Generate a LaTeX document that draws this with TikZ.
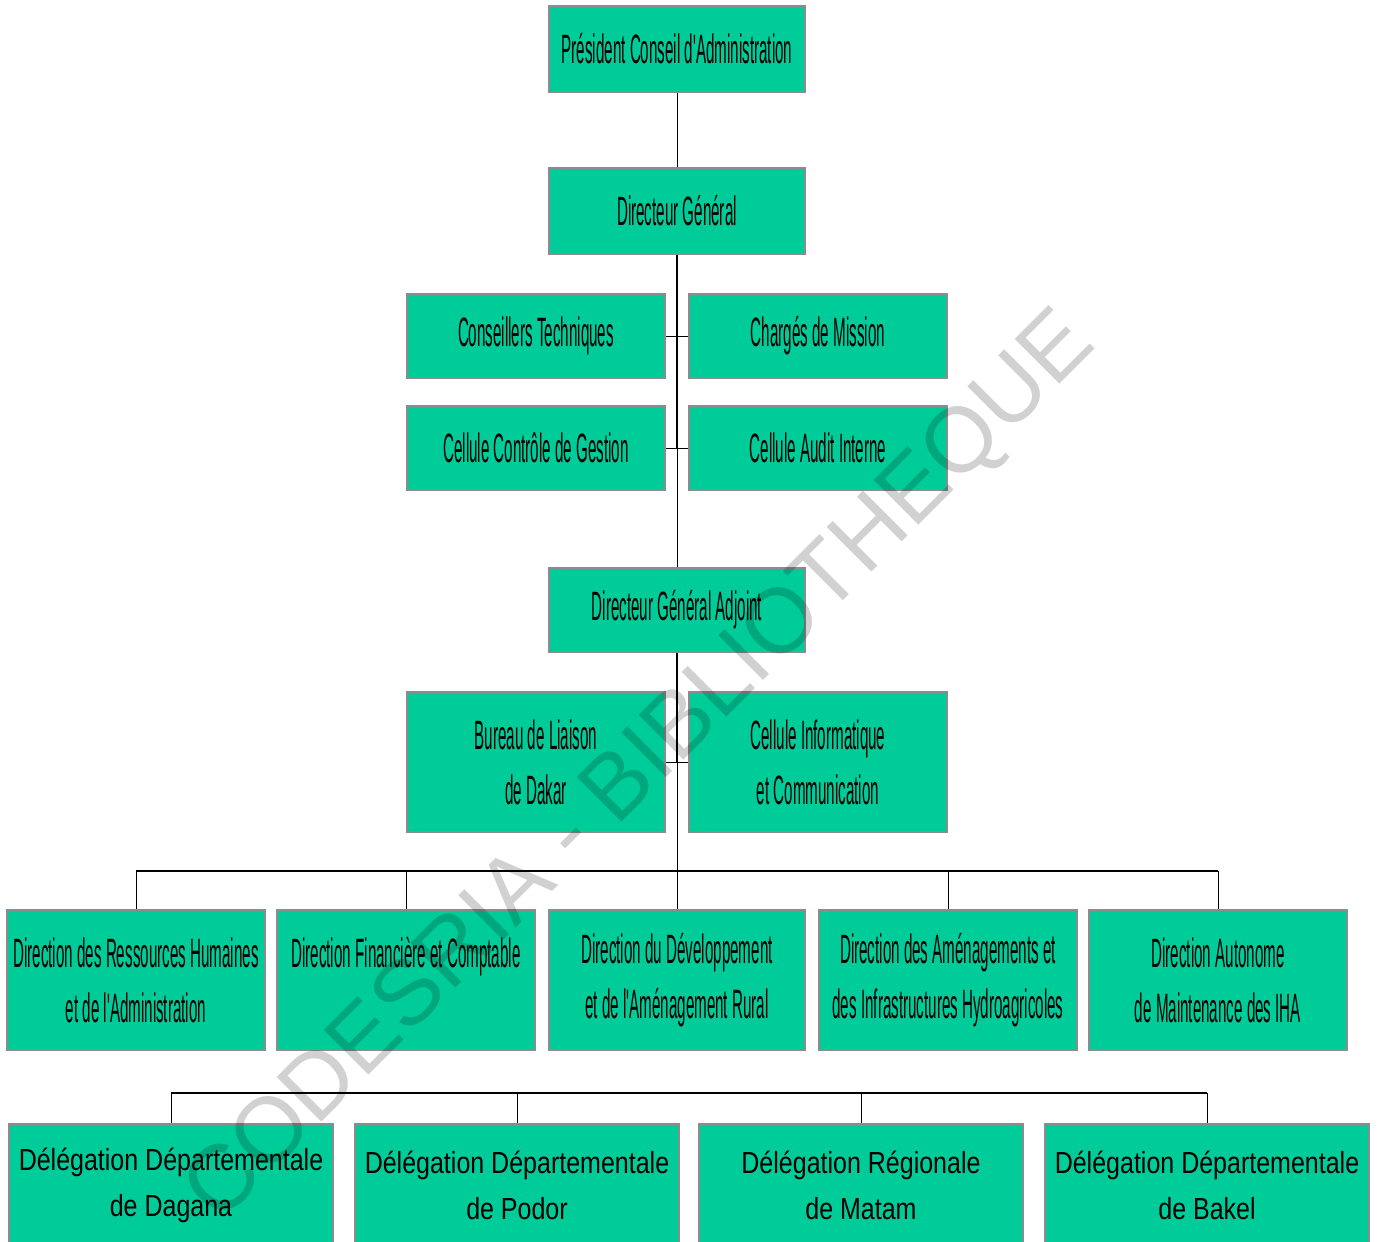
\documentclass[tikz,border=0pt]{standalone}
\usepackage{fontspec}
\setmainfont{Liberation Sans}
\newfontfamily\narrowf[FakeStretch=0.37]{Liberation Sans}
\newfontfamily\delegf[FakeStretch=0.82]{Liberation Sans}
\newfontfamily\wmf{Liberation Sans}
\definecolor{boxgreen}{HTML}{00CC99}
\definecolor{boxborder}{HTML}{8C8C8C}
\tikzset{
  orgbox/.style={draw=boxborder, line width=1.6pt, fill=boxgreen, inner sep=0pt,
    align=center, text=black, font=\narrowf\fontsize{41}{55}\selectfont},
  smallbox/.style={orgbox, minimum width=258pt, minimum height=84pt},
  midbox/.style={orgbox, minimum width=256pt, minimum height=86pt},
  tallbox/.style={orgbox, minimum width=258pt, minimum height=140pt},
  delbox/.style={orgbox, minimum width=324pt, minimum height=122pt,
    font=\delegf\fontsize{30.5}{46}\selectfont},
  thickline/.style={line width=2pt, draw=black},
  thinline/.style={line width=1pt, draw=black},
  barline/.style={line width=1.6pt, draw=black},
}
\begin{document}
\begin{tikzpicture}[x=1pt, y=-1pt]
\useasboundingbox[fill=white] (0,0) rectangle (1380,1241);

% top hierarchy
\node[midbox] (pca) at (677,49) {Président Conseil d'Administration};
\node[midbox] (dg) at (677,211) {Directeur Général};
\node[smallbox] (ct) at (536,336) {Conseillers Techniques};
\node[smallbox] (cm) at (818,336) {Chargés de Mission};
\node[smallbox] (ccg) at (536,448) {Cellule Contrôle de Gestion};
\node[smallbox] (cai) at (818,448) {Cellule Audit Interne};
\node[midbox, minimum height=84pt] (dga) at (677,610) {Directeur Général Adjoint};
\node[tallbox] (bld) at (536,762) {Bureau de Liaison\\de Dakar};
\node[tallbox] (cic) at (818,762) {Cellule Informatique\\et Communication};

% directions
\node[tallbox] (d1) at (136,980) {Direction des Ressources Humaines\\et de l'Administration};
\node[tallbox] (d2) at (406,980) {Direction Financière et Comptable\\\phantom{x}};
\node[tallbox, minimum width=256pt] (d3) at (677,980) {Direction du Développement\\et de l'Aménagement Rural};
\node[tallbox] (d4) at (948,980) {Direction des Aménagements et\\des Infrastructures Hydroagricoles};
\node[tallbox] (d5) at (1218,980) {Direction Autonome\\de Maintenance des IHA};

% delegations
\node[delbox] (e1) at (171,1185) {Délégation Départementale\\de Dagana};
\node[delbox] (e2) at (517,1185) {Délégation Départementale\\de Podor};
\node[delbox] (e3) at (861,1185) {Délégation Régionale\\de Matam};
\node[delbox] (e4) at (1207,1185) {Délégation Départementale\\de Bakel};

% junction coordinates
\coordinate (j2) at (677,448);
\coordinate (j3) at (677,762);
\coordinate (h5) at (677,871);
\coordinate (h6) at (677,1093);

% connectors
\draw[thinline] (pca.south) -- (dg.north);
\draw[thickline] (dg.south) -- (j2);
\draw[thinline] (j2) -- (dga.north);
\draw[thinline] (ct.east) -- (cm.west);
\draw[thinline] (ccg.east) -- (cai.west);
\draw[thickline] (dga.south) -- (j3);
\draw[thinline] (j3) -- (h5);
\draw[thinline] (bld.east) -- (cic.west);

\draw[barline] (d1.north |- h5) -- (d5.north |- h5);
\foreach \n in {d1,d2,d3,d4,d5}{
  \draw[thinline] (\n.north |- h5) -- (\n.north);
}
\draw[barline] (e1.north |- h6) -- (e4.north |- h6);
\foreach \n in {e1,e2,e3,e4}{
  \draw[thinline] (\n.north |- h6) -- (\n.north);
}

% watermark
\node[rotate=45, text=black, text opacity=0.18, font=\wmf\fontsize{92}{100}\selectfont] (wm) at (642,769) {CODESRIA - BIBLIOTHEQUE};
\end{tikzpicture}
\end{document}
